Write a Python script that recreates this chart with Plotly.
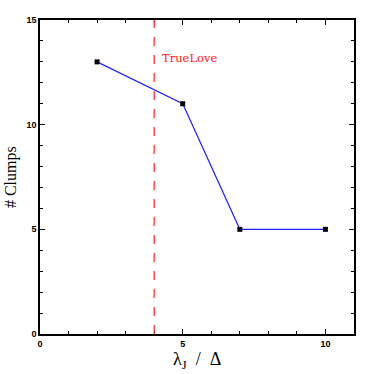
import plotly.graph_objects as go

lambda_ratio = [2, 5, 7, 10]
n_clumps = [13, 11, 5, 5]
truelove_x = 4
truelove_label = "TrueLove"
x_ticks = [0, 5, 10]
y_ticks = [0, 5, 10, 15]

fig = go.Figure()
fig.add_trace(go.Scatter(
    x=lambda_ratio, y=n_clumps, mode="lines+markers",
    line=dict(color="#2020ff", width=1.2),
    marker=dict(symbol="square", size=5, color="black"),
    showlegend=False,
))
fig.add_shape(type="line", xref="x", yref="paper", x0=truelove_x, x1=truelove_x, y0=0, y1=1,
              line=dict(color="#ff3030", width=1.3, dash="dash"))
fig.add_annotation(x=truelove_x + 0.2, y=13.2, text=truelove_label, showarrow=False,
                   xanchor="left", yanchor="middle",
                   font=dict(family="DejaVu Serif", size=11.5, color="#ff2020"))
fig.add_annotation(xref="paper", yref="paper", x=0.5, y=-0.085, text="λ<sub>J</sub>  /  Δ",
                   showarrow=False, xanchor="center", yanchor="middle",
                   font=dict(family="Liberation Serif", size=18, color="black"))
fig.add_annotation(xref="paper", yref="paper", x=-0.092, y=0.5, text="# Clumps", textangle=-90,
                   showarrow=False, xanchor="center", yanchor="middle",
                   font=dict(family="Liberation Serif", size=16, color="black"))

axis_common = dict(
    showgrid=False, zeroline=False, showline=True, linecolor="black", linewidth=1.5,
    mirror="allticks", ticks="inside", ticklen=5, tickwidth=1, tickcolor="black",
    tickfont=dict(family="Liberation Sans", size=9, color="black", weight="bold"),
    automargin=False,
)
fig.update_xaxes(range=[0, 11], tickvals=x_ticks,
                 minor=dict(dtick=1, ticks="inside", ticklen=3, tickcolor="black"),
                 **axis_common)
fig.update_yaxes(range=[0, 15], tickvals=y_ticks,
                 minor=dict(dtick=1, ticks="inside", ticklen=3, tickcolor="black"),
                 **axis_common)
fig.update_layout(
    width=374, height=374, margin=dict(l=40, r=20, t=20, b=40),
    paper_bgcolor="white", plot_bgcolor="white",
)
fig.write_html("out.html", config={"displayModeBar": False},
               post_script="document.body.style.margin='0';")
